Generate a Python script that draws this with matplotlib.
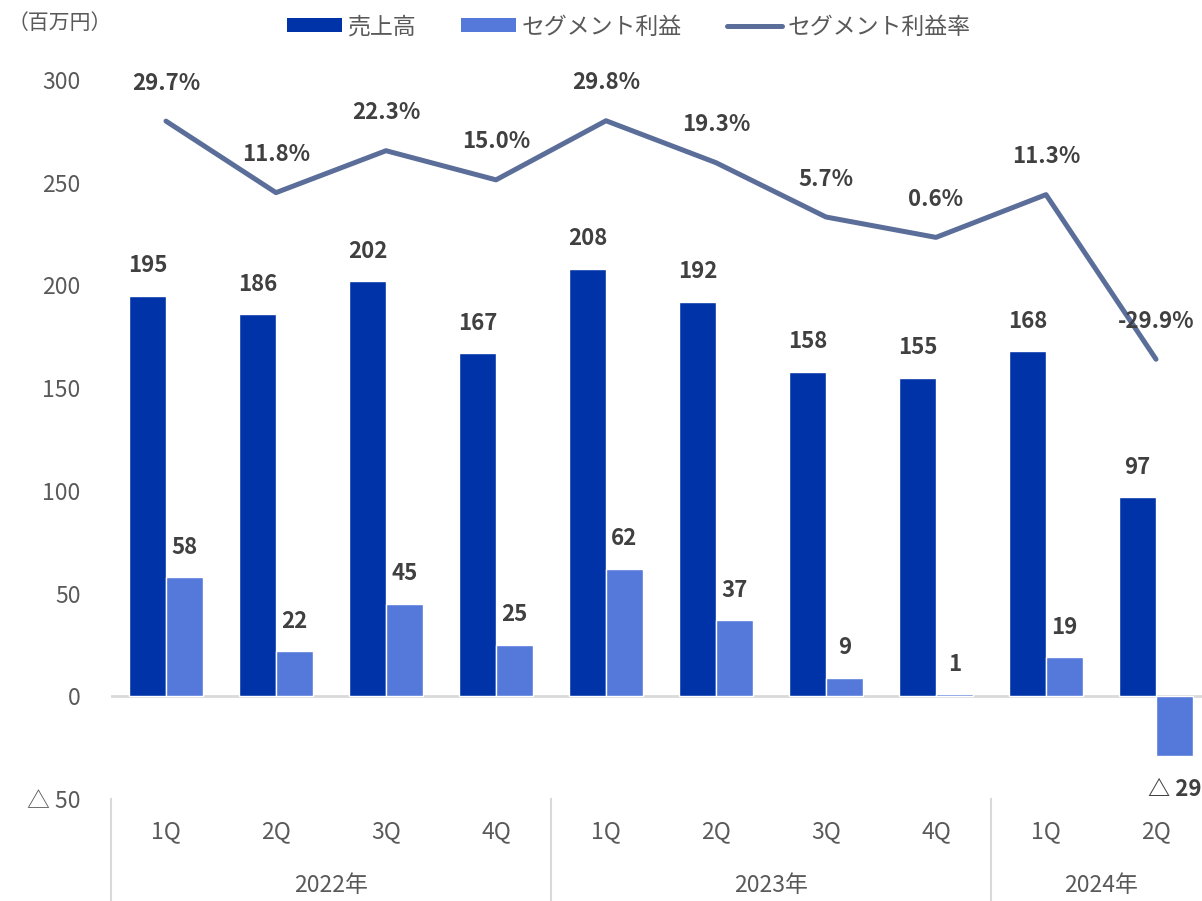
import matplotlib
matplotlib.use("Agg")
import matplotlib.pyplot as plt
from matplotlib.ticker import FuncFormatter
from matplotlib.patches import Patch
from matplotlib.lines import Line2D

plt.rcParams['font.family'] = ['Noto Sans CJK JP', 'DejaVu Sans']

# data
quarters = ["1Q", "2Q", "3Q", "4Q", "1Q", "2Q", "3Q", "4Q", "1Q", "2Q"]
years = ["2022年", "2023年", "2024年"]
year_spans = [(0, 3), (4, 7), (8, 9)]
sales = [195, 186, 202, 167, 208, 192, 158, 155, 168, 97]
profit = [58, 22, 45, 25, 62, 37, 9, 1, 19, -29]
margin = [29.7, 11.8, 22.3, 15.0, 29.8, 19.3, 5.7, 0.6, 11.3, -29.9]

dark = "#0033A8"
light = "#5479DA"
line_c = "#5B6E99"
gray = "#595959"
label_c = "#404040"
axis_c = "#D9D9D9"


def tri_fmt(v, pos=None):
    # negatives are shown with a triangle in Japanese reports
    if v < 0:
        return f"△ {abs(v):.0f}"
    return f"{v:.0f}"


fig = plt.figure(figsize=(12.02, 9.01), dpi=100)
ax = fig.add_axes([111 / 1202, 1 - 799 / 901, 1100 / 1202, 719 / 901])

x = list(range(len(quarters)))
w = 0.335
xd = [i - w / 2 for i in x]
xl = [i + w / 2 for i in x]
ax.bar(xd, sales, width=w, color=dark, edgecolor="white", linewidth=1, zorder=2)
ax.bar(xl, profit, width=w, color=light, edgecolor="white", linewidth=1, zorder=2)

ax.set_xlim(-0.5, 9.5)
ax.set_ylim(-50, 300)
ax.set_yticks(range(-50, 301, 50))
ax.yaxis.set_major_formatter(FuncFormatter(tri_fmt))
ax.tick_params(axis="y", length=0, pad=22, labelsize=16.5, labelcolor=gray)
ax.set_xticks([])
for s in ax.spines.values():
    s.set_visible(False)
ax.axhline(0, color=axis_c, linewidth=2, zorder=1)

for xi, v in zip(xd, sales):
    ax.annotate(tri_fmt(v), (xi, v), xytext=(0, 30), textcoords="offset pixels",
                ha="center", va="center", fontsize=16, fontweight="bold", color=label_c)
for xi, v in zip(xl, profit):
    off = 30 if v >= 0 else -34
    ax.annotate(tri_fmt(v), (xi, v), xytext=(0, off), textcoords="offset pixels",
                ha="center", va="center", fontsize=16, fontweight="bold", color=label_c)

# margin on hidden secondary axis
ax2 = ax.twinx()
ax2.set_ylim(-140, 40)
ax2.plot(x, margin, color=line_c, linewidth=3.6, solid_capstyle="round", zorder=3)
ax2.set_yticks([])
for s in ax2.spines.values():
    s.set_visible(False)
for xi, v in zip(x, margin):
    ax2.annotate(f"{v:.1f}%", (xi, v), xytext=(0, 38), textcoords="offset pixels",
                 ha="center", va="center", fontsize=16, fontweight="bold", color=label_c)

# category axis below
trans = ax.get_xaxis_transform()
for b in [-0.5, 3.5, 7.5, 9.5]:
    ax.plot([b, b], [0, -0.143], transform=trans, color=axis_c, linewidth=1.5, clip_on=False)
for xi, q in zip(x, quarters):
    ax.text(xi, -0.045, q, transform=trans, ha="center", va="center", fontsize=16.5, color=gray)
for (a, b), yr in zip(year_spans, years):
    ax.text((a + b) / 2, -0.12, yr, transform=trans, ha="center", va="center", fontsize=16.5, color=gray)

fig.text(8 / 1202, 1 - 23 / 901, "（百万円）", ha="left", va="center", fontsize=15, color=gray)

handles = [Patch(facecolor=dark), Patch(facecolor=light),
           Line2D([0], [0], color=line_c, linewidth=3.6, solid_capstyle="round")]
fig.legend(handles, ["売上高", "セグメント利益", "セグメント利益率"], loc="center",
           bbox_to_anchor=(629 / 1202, 1 - 27 / 901), ncol=3, frameon=False,
           fontsize=16.5, labelcolor=gray, handlelength=2.4, handleheight=0.55,
           handletextpad=0.25, columnspacing=1.95)

fig.savefig("out.png", dpi=100)
